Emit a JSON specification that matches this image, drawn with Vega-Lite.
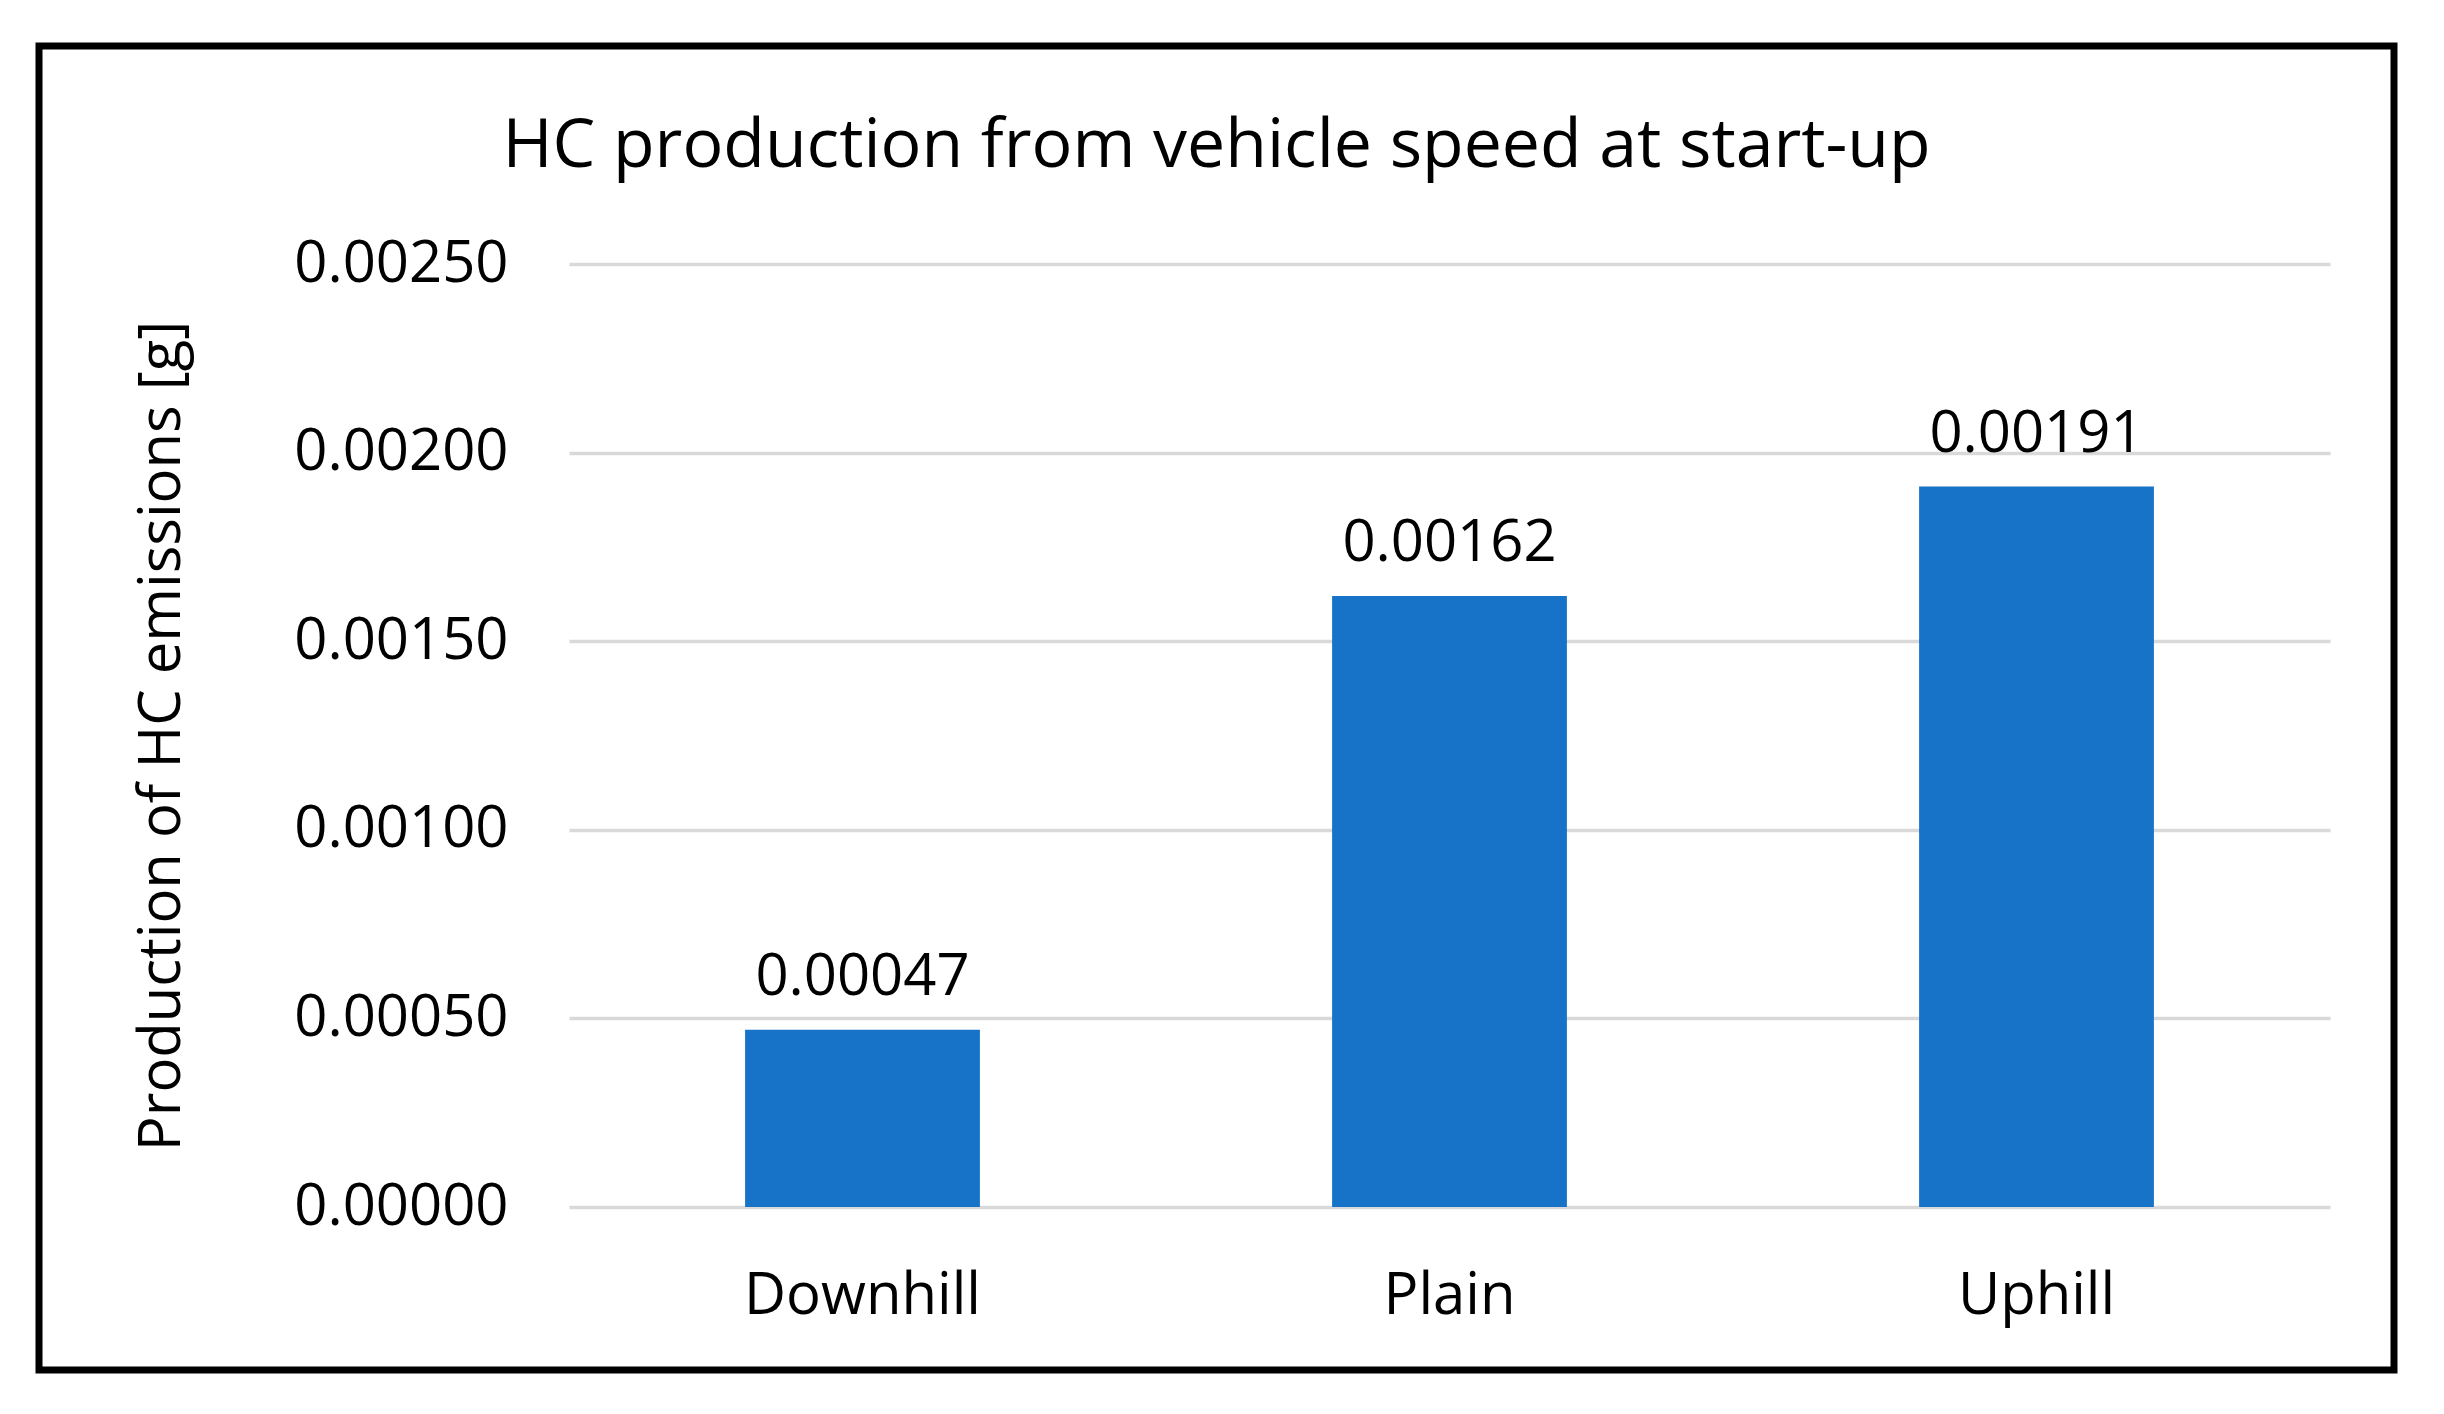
{
  "$schema": "https://vega.github.io/schema/vega-lite/v6.json",
  "width": 2355,
  "height": 1324,
  "autosize": {"type": "none"},
  "padding": {"left": 39, "top": 46, "right": 50, "bottom": 44},
  "background": "white",
  "title": {
    "text": "HC production from vehicle speed at start-up",
    "font": "Open Sans",
    "fontSize": 68,
    "fontWeight": "normal",
    "color": "#000000",
    "anchor": "middle",
    "frame": "group",
    "baseline": "alphabetic",
    "offset": -189
  },
  "config": {
    "view": {"stroke": "#000000", "strokeWidth": 7, "fill": "white"},
    "font": "Open Sans"
  },
  "data": {
    "values": [
      {"terrain": "Downhill", "value": 0.00047},
      {"terrain": "Plain", "value": 0.00162},
      {"terrain": "Uphill", "value": 0.00191}
    ]
  },
  "encoding": {
    "x": {
      "field": "terrain",
      "type": "nominal",
      "sort": null,
      "scale": {"range": [530, 2291], "paddingInner": 0.6, "paddingOuter": 0.3},
      "axis": {
        "title": null,
        "orient": "bottom",
        "offset": -163,
        "domain": false,
        "ticks": false,
        "grid": false,
        "labelAngle": 0,
        "labelLimit": 0,
        "labelPadding": 60,
        "labelFont": "Open Sans",
        "labelFontSize": 58,
        "labelColor": "#000000"
      }
    },
    "y": {
      "field": "value",
      "type": "quantitative",
      "scale": {"domain": [0, 0.0025], "range": [1161, 218], "nice": false},
      "axis": {
        "title": "Production of HC emissions [g]",
        "values": [0, 0.0005, 0.001, 0.0015, 0.002, 0.0025],
        "format": ".5f",
        "offset": -530,
        "domain": false,
        "ticks": false,
        "labelLimit": 0,
        "labelPadding": 61,
        "labelFont": "Open Sans",
        "labelFontSize": 58,
        "labelColor": "#000000",
        "gridColor": "#d9d9d9",
        "gridWidth": 3.5,
        "titleFont": "Open Sans",
        "titleFontSize": 58,
        "titleFontWeight": "normal",
        "titleColor": "#000000",
        "titlePadding": 178
      }
    }
  },
  "layer": [
    {"mark": {"type": "bar", "color": "#1773c8"}},
    {
      "mark": {"type": "text", "baseline": "alphabetic", "dy": -35, "font": "Open Sans", "fontSize": 58, "color": "#000000"},
      "encoding": {"text": {"field": "value", "type": "quantitative", "format": ".5f"}}
    }
  ]
}
